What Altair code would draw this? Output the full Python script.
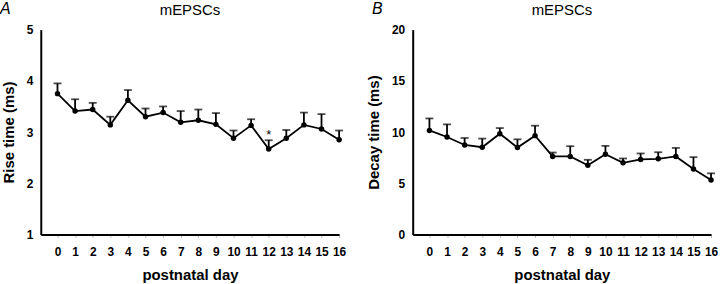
import altair as alt
import pandas as pd

days = list(range(17))
rise_mean = [3.75, 3.41, 3.44, 3.14, 3.62, 3.30, 3.38, 3.19, 3.23, 3.15, 2.88, 3.13, 2.67, 2.88, 3.14, 3.06, 2.85]
rise_sem = [0.20, 0.23, 0.13, 0.16, 0.20, 0.16, 0.12, 0.22, 0.21, 0.22, 0.15, 0.12, 0.17, 0.16, 0.24, 0.29, 0.18]
decay_mean = [10.16, 9.52, 8.74, 8.52, 9.84, 8.49, 9.65, 7.62, 7.62, 6.75, 7.84, 7.00, 7.33, 7.39, 7.62, 6.39, 5.32]
decay_sem = [1.17, 1.23, 0.68, 0.84, 0.55, 0.80, 0.97, 0.38, 1.00, 0.54, 0.81, 0.42, 0.58, 0.64, 0.83, 1.16, 0.65]

FONT = "Liberation Sans"


def panel(mean, sem, letter, ytitle, ydomain, yticks, star=None):
    df = pd.DataFrame({
        "day": days,
        "mean": mean,
        "upper": [m + s for m, s in zip(mean, sem)],
    })
    xaxis = alt.Axis(values=days, title="postnatal day", format="d",
                     labelOverlap=False, labelFlush=False,
                     labelFont=FONT, labelFontSize=12, labelFontWeight="bold",
                     labelColor="black", labelPadding=9,
                     titleFont=FONT, titleFontSize=15, titleFontWeight="bold",
                     titleColor="black", titlePadding=10,
                     domainColor="black", domainWidth=2,
                     tickColor="#bbbbbb", tickSize=3, tickWidth=1,
                     grid=False)
    yaxis = alt.Axis(values=yticks, title=ytitle, format="d",
                     labelOverlap=False, labelFlush=False,
                     labelFont=FONT, labelFontSize=12, labelFontWeight="bold",
                     labelColor="black", labelPadding=8,
                     titleFont=FONT, titleFontSize=15, titleFontWeight="bold",
                     titleColor="black", titlePadding=10,
                     domainColor="black", domainWidth=2,
                     ticks=False, grid=False)
    xs = alt.Scale(domain=[-0.95, 16], nice=False, zero=False)
    ys = alt.Scale(domain=ydomain, nice=False, zero=False)

    def X():
        return alt.X("day:Q", scale=xs, axis=xaxis)

    def Y(f):
        return alt.Y(f"{f}:Q", scale=ys, axis=yaxis)

    base = alt.Chart(df)
    line = base.mark_line(color="black", strokeWidth=1.8).encode(x=X(), y=Y("mean"))
    err = base.mark_rule(color="black", strokeWidth=1.8).encode(
        x=X(), y=Y("mean"), y2="upper:Q")
    cap = base.mark_tick(color="black", orient="horizontal", size=8, thickness=1.8).encode(
        x=X(), y=Y("upper"))
    pts = base.mark_point(filled=True, color="black", size=30, opacity=1).encode(x=X(), y=Y("mean"))
    lab = alt.Chart(pd.DataFrame({"t": [letter]})).mark_text(
        font=FONT, fontSize=16, fontStyle="italic", align="left", baseline="top", color="black"
    ).encode(text="t:N", x=alt.value(-41), y=alt.value(-29))
    ttl = alt.Chart(pd.DataFrame({"t": ["mEPSCs"]})).mark_text(
        font=FONT, fontSize=15, align="center", baseline="top", color="black"
    ).encode(text="t:N", x=alt.value(150), y=alt.value(-27))
    layers = [line, err, cap, pts, lab, ttl]
    if star is not None:
        sdf = pd.DataFrame({"day": [star[0]], "val": [star[1]], "t": ["*"]})
        layers.append(alt.Chart(sdf).mark_text(font=FONT, fontSize=13, color="black", baseline="middle").encode(
            x=X(), y=alt.Y("val:Q", scale=ys, axis=yaxis), text="t:N"))
    return alt.layer(*layers).properties(width=300, height=206)


a = panel(rise_mean, rise_sem, "A", "Rise time (ms)", [1, 5], [1, 2, 3, 4, 5], star=(12, 2.95))
b = panel(decay_mean, decay_sem, "B", "Decay time (ms)", [0, 20], [0, 5, 10, 15, 20])

chart = alt.hconcat(a, b, spacing=74, bounds="flush").properties(
    padding={"left": 0, "top": 0, "right": 2, "bottom": 0}
).configure_view(stroke=None)

chart.save("out.html", embed_options={"renderer": "svg", "actions": False})
